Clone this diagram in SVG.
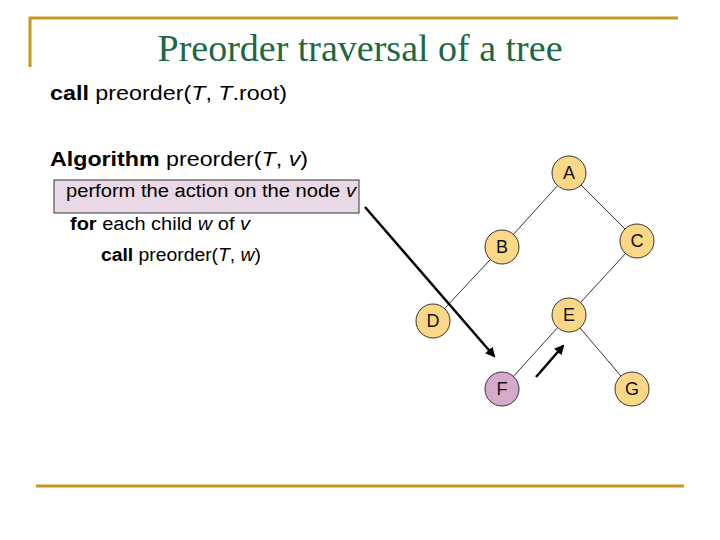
<svg xmlns="http://www.w3.org/2000/svg" width="720" height="540" viewBox="0 0 720 540">
<defs>
<style>
.frame{stroke:#c49a1e;stroke-width:3;fill:none}
.t{font-family:"Liberation Sans",Arial,sans-serif;fill:#000}
.node circle{fill:#fbd885;stroke:#333;stroke-width:1}
.node text{font-family:"Liberation Sans",Arial,sans-serif;font-size:18px;text-anchor:middle;fill:#111}
.edge{stroke:#000;stroke-width:0.8}
.arr{stroke:#000;stroke-width:2.5;marker-end:url(#ah)}
</style>
<marker id="ah" viewBox="0 0 10 10" refX="8" refY="5" markerWidth="4" markerHeight="4" orient="auto" markerUnits="strokeWidth">
<path d="M0,0 L10,5 L0,10 z" fill="#000"/>
</marker>
</defs>
<rect width="720" height="540" fill="#fff"/>
<path class="frame" d="M30,67 V18 H678"/>
<line x1="36" y1="486" x2="684" y2="486" class="frame"/>
<text x="360" y="61" text-anchor="middle" font-family="Liberation Serif,Times New Roman,serif" font-size="38" fill="#1d6842" textLength="405" lengthAdjust="spacingAndGlyphs">Preorder traversal of a tree</text>
<text class="t" x="50" y="100" font-size="21" textLength="237" lengthAdjust="spacingAndGlyphs"><tspan font-weight="bold">call</tspan> preorder(<tspan font-style="italic">T</tspan>, <tspan font-style="italic">T</tspan>.root)</text>
<text class="t" x="50" y="166" font-size="21" textLength="258" lengthAdjust="spacingAndGlyphs"><tspan font-weight="bold">Algorithm</tspan> preorder(<tspan font-style="italic">T</tspan>, <tspan font-style="italic">v</tspan>)</text>
<rect x="54" y="180" width="305" height="33" fill="#e9d8e6" stroke="#333" stroke-width="1"/>
<text class="t" x="66" y="197" font-size="18" fill="#222" textLength="290" lengthAdjust="spacingAndGlyphs">perform the action on the node <tspan font-style="italic">v</tspan></text>
<text class="t" x="70" y="230" font-size="18" textLength="180" lengthAdjust="spacingAndGlyphs"><tspan font-weight="bold">for</tspan> each child <tspan font-style="italic">w</tspan> of <tspan font-style="italic">v</tspan></text>
<text class="t" x="101" y="261" font-size="18" textLength="160" lengthAdjust="spacingAndGlyphs"><tspan font-weight="bold">call</tspan> preorder(<tspan font-style="italic">T</tspan>, <tspan font-style="italic">w</tspan>)</text>
<g id="connectors">
<line class="edge" x1="569" y1="173" x2="502" y2="247"/>
<line class="edge" x1="569" y1="173" x2="637" y2="241"/>
<line class="edge" x1="502" y1="247" x2="433" y2="321"/>
<line class="edge" x1="637" y1="241" x2="569" y2="315"/>
<line class="edge" x1="569" y1="315" x2="502" y2="389"/>
<line class="edge" x1="569" y1="315" x2="632" y2="389"/>
<line class="arr" x1="365" y1="207" x2="494" y2="356"/>
<line class="arr" x1="536" y1="377" x2="563" y2="346"/>
</g>
<g id="node-A" class="node"><circle cx="569" cy="173" r="17"/><text x="569" y="179">A</text></g>
<g id="node-B" class="node"><circle cx="502" cy="247" r="17"/><text x="502" y="253">B</text></g>
<g id="node-C" class="node"><circle cx="637" cy="241" r="17"/><text x="637" y="247">C</text></g>
<g id="node-D" class="node"><circle cx="433" cy="321" r="17"/><text x="433" y="327">D</text></g>
<g id="node-E" class="node"><circle cx="569" cy="315" r="17"/><text x="569" y="321">E</text></g>
<g id="node-F" class="node"><circle cx="502" cy="389" r="17" style="fill:#d5aacb"/><text x="502" y="395">F</text></g>
<g id="node-G" class="node"><circle cx="632" cy="389" r="17"/><text x="632" y="395">G</text></g>
</svg>
